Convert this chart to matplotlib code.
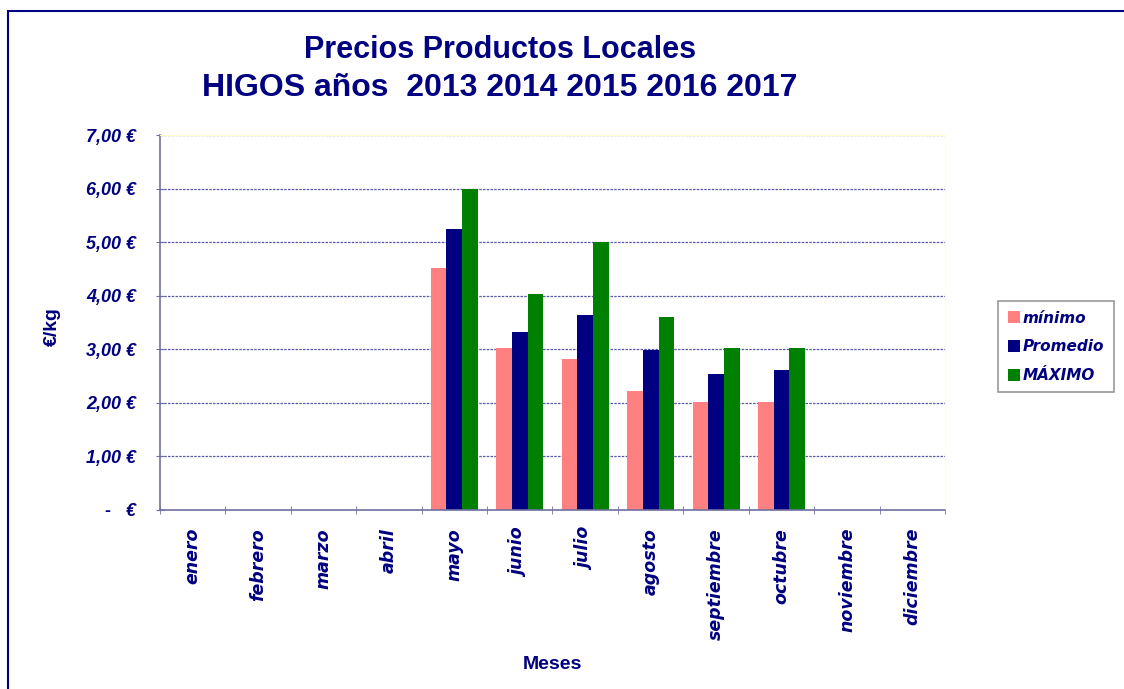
import numpy as np
import matplotlib.pyplot as plt
from matplotlib.patches import Rectangle
from matplotlib.ticker import FixedLocator

meses = ["enero", "febrero", "marzo", "abril", "mayo", "junio", "julio",
         "agosto", "septiembre", "octubre", "noviembre", "diciembre"]
minimo = [0, 0, 0, 0, 4.52, 3.02, 2.82, 2.22, 2.02, 2.02, 0, 0]
promedio = [0, 0, 0, 0, 5.25, 3.32, 3.63, 2.99, 2.53, 2.62, 0, 0]
maximo = [0, 0, 0, 0, 6.00, 4.03, 5.00, 3.61, 3.02, 3.02, 0, 0]
y_ticks = [0, 1, 2, 3, 4, 5, 6, 7]
y_labels = ["-   €", "1,00 €", "2,00 €", "3,00 €", "4,00 €", "5,00 €", "6,00 €", "7,00 €"]

navy = "#000080"
wide = ["DejaVu Sans"]
plt.rcParams["font.family"] = ["Liberation Sans", "DejaVu Sans"]

fig = plt.figure(figsize=(11.24, 6.89), dpi=100)
fig.patches.append(Rectangle((8 / 1124, -0.01), 1.2, 1 - 11 / 689 + 0.01, transform=fig.transFigure,
                             fill=False, edgecolor=navy, linewidth=1.5))
ax = fig.add_axes([0.142, 0.260, 0.699, 0.544])

x = np.arange(len(meses))
w = 0.24
ax.bar(x - w, minimo, w, color="#ff8080", label="mínimo")
ax.bar(x, promedio, w, color="#000080", label="Promedio")
ax.bar(x + w, maximo, w, color="#008000", label="MÁXIMO")

ax.set_xlim(-0.5, len(meses) - 0.5)
ax.set_ylim(0, 7)
ax.set_yticks(y_ticks)
ax.set_yticklabels(y_labels, fontsize=13, fontweight="bold", style="italic", color=navy)
ax.set_xticks(x)
ax.set_xticklabels(meses, rotation=90, fontsize=12.5, fontweight="bold", style="italic",
                   color=navy, family=wide)
ax.xaxis.set_minor_locator(FixedLocator(np.arange(-0.5, len(meses), 1)))
ax.tick_params(axis="x", which="major", length=0, pad=13)
ax.tick_params(axis="x", which="minor", length=6, color="#7070a0", direction="inout")
ax.tick_params(axis="y", length=6, color="#7070a0", direction="inout", pad=14)

ax.grid(axis="y", linestyle=(0, (2, 1)), color="#303090", linewidth=0.9, alpha=0.8)
ax.set_axisbelow(True)
for s in ["left", "bottom"]:
    ax.spines[s].set_color("#7070a0")
    ax.spines[s].set_linewidth(1.2)
for s in ["top", "right"]:
    ax.spines[s].set_color("#ffffc8")

ax.set_ylabel("€/kg", fontsize=14, fontweight="bold", color=navy)
ax.yaxis.set_label_coords(-0.125, 0.49)
ax.set_xlabel("Meses", fontsize=14, fontweight="bold", color=navy)
ax.xaxis.set_label_coords(0.50, -0.39)

fig.text(0.445, 0.927, "Precios Productos Locales", ha="center", va="center",
         fontsize=22, fontweight="bold", color=navy)
fig.text(0.445, 0.872, "HIGOS años  2013 2014 2015 2016 2017", ha="center", va="center",
         fontsize=23, fontweight="bold", color=navy)

leg = ax.legend(loc="center left", bbox_to_anchor=(1.058, 0.435), frameon=True, fancybox=False,
                handlelength=0.8, handleheight=0.8, handletextpad=0.2, labelspacing=0.9,
                borderpad=0.6, prop={"family": wide, "weight": "bold", "style": "italic", "size": 11})
leg.get_frame().set_edgecolor("#808080")
leg.get_frame().set_linewidth(1.2)
for t in leg.get_texts():
    t.set_color(navy)

fig.savefig("out.png", dpi=100)
